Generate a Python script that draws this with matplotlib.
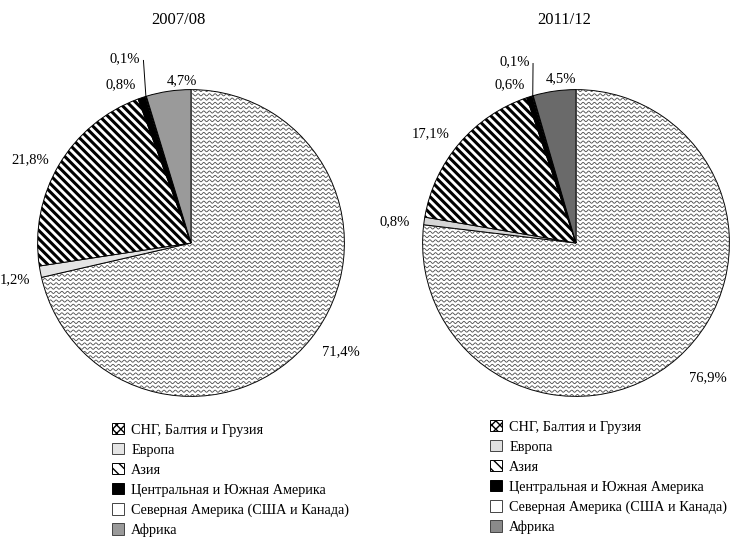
import matplotlib
matplotlib.use("Agg")
import matplotlib.pyplot as plt
import numpy as np
from matplotlib.patches import Patch

plt.rcParams["font.family"] = ["Liberation Serif", "DejaVu Serif"]

# Данные
regions = ["СНГ, Балтия и Грузия", "Европа", "Азия",
           "Центральная и Южная Америка", "Северная Америка (США и Канада)", "Африка"]
years = ["2007/08", "2011/12"]
share_0708 = [71.4, 1.2, 21.8, 0.8, 0.1, 4.7]
share_1112 = [76.9, 0.8, 17.1, 0.6, 0.1, 4.5]

# Оформление
colors_0708 = ["white", "#e4e4e4", "white", "black", "white", "#9a9a9a"]
colors_1112 = ["white", "#d6d6d6", "white", "black", "white", "#6a6a6a"]
legend_colors_1112 = ["white", "#e0e0e0", "white", "black", "white", "#8a8a8a"]
# позиции подписей (в радиусах)
lbl_0708 = [(0.98, -0.71), (-1.15, -0.24), (-1.05, 0.54), (-0.46, 1.03), (-0.43, 1.20), (-0.06, 1.06)]
lbl_1112 = [(0.86, -0.88), (-1.18, 0.14), (-0.95, 0.71), (-0.43, 1.03), (-0.40, 1.18), (-0.095, 1.07)]

fig = plt.figure(figsize=(7.3, 5.37), dpi=100)
W, H = 730, 537
R = 147.5
LIM = 1.3


def wavy(ax, wedge):
    xs = np.linspace(-1.05, 1.05, 900)
    for y0 in np.arange(-1.05, 1.06, 0.028):
        ys = y0 + 0.007 * np.sin(xs / 0.037 * 2 * np.pi)
        ln, = ax.plot(xs, ys, color="#4a4a4a", lw=0.6)
        ln.set_clip_path(wedge)


def draw_pie(cx, cy, values, colors, lbls, title, tx):
    size = 2 * LIM * R
    ax = fig.add_axes([(cx - size / 2) / W, (H - cy - size / 2) / H, size / W, size / H])
    ax.set_xlim(-LIM, LIM)
    ax.set_ylim(-LIM, LIM)
    ax.set_aspect("equal")
    ax.axis("off")
    plt.rcParams["hatch.linewidth"] = 2.2
    wedges, _ = ax.pie(values, colors=colors, startangle=90, counterclock=False,
                       wedgeprops=dict(edgecolor="black", linewidth=0.7))
    wedges[2].set_hatch("\\\\\\\\")
    wavy(ax, wedges[0])
    wedges[0].set_zorder(0.5)
    # подписи
    for v, (lx, ly) in zip(values, lbls):
        ax.text(lx, ly, f"{v:.1f}".replace(".", ",") + "%", ha="center", va="center", fontsize=10.5)
    # выноска для 0,1%
    cum = np.cumsum(values)
    mid = 90 - (cum[4] - values[4] / 2) / 100 * 360
    ex, ey = np.cos(np.radians(mid)), np.sin(np.radians(mid))
    lx, ly = lbls[4]
    ax.plot([lx + 0.12, ex], [ly - 0.01, ey], color="black", lw=0.7)
    fig.text(tx / W, 1 - 20 / H, title, ha="center", va="center", fontsize=12)


draw_pie(191, 243, share_0708, colors_0708, lbl_0708, years[0], 178)
draw_pie(576, 243, share_1112, colors_1112, lbl_1112, years[1], 564)


def legend(x, y, colors):
    plt.rcParams["hatch.linewidth"] = 1.0
    handles = [
        Patch(facecolor="white", edgecolor="black", hatch="xxxx", lw=0.7),
        Patch(facecolor=colors[1], edgecolor="#444444", lw=0.7),
        Patch(facecolor="white", edgecolor="black", hatch="\\\\\\", lw=0.7),
        Patch(facecolor="black", edgecolor="black", lw=0.7),
        Patch(facecolor="white", edgecolor="#444444", lw=0.7),
        Patch(facecolor=colors[5], edgecolor="#444444", lw=0.7),
    ]
    fig.legend(handles, regions, loc="upper left", bbox_to_anchor=(x / W, 1 - y / H),
               frameon=False, fontsize=10.3, handlelength=0.84, handleheight=0.84,
               handletextpad=0.5, labelspacing=0.45, borderpad=0, borderaxespad=0)


legend(112, 423, colors_0708)
legend(490, 420, legend_colors_1112)

fig.savefig("out.png", dpi=100)
